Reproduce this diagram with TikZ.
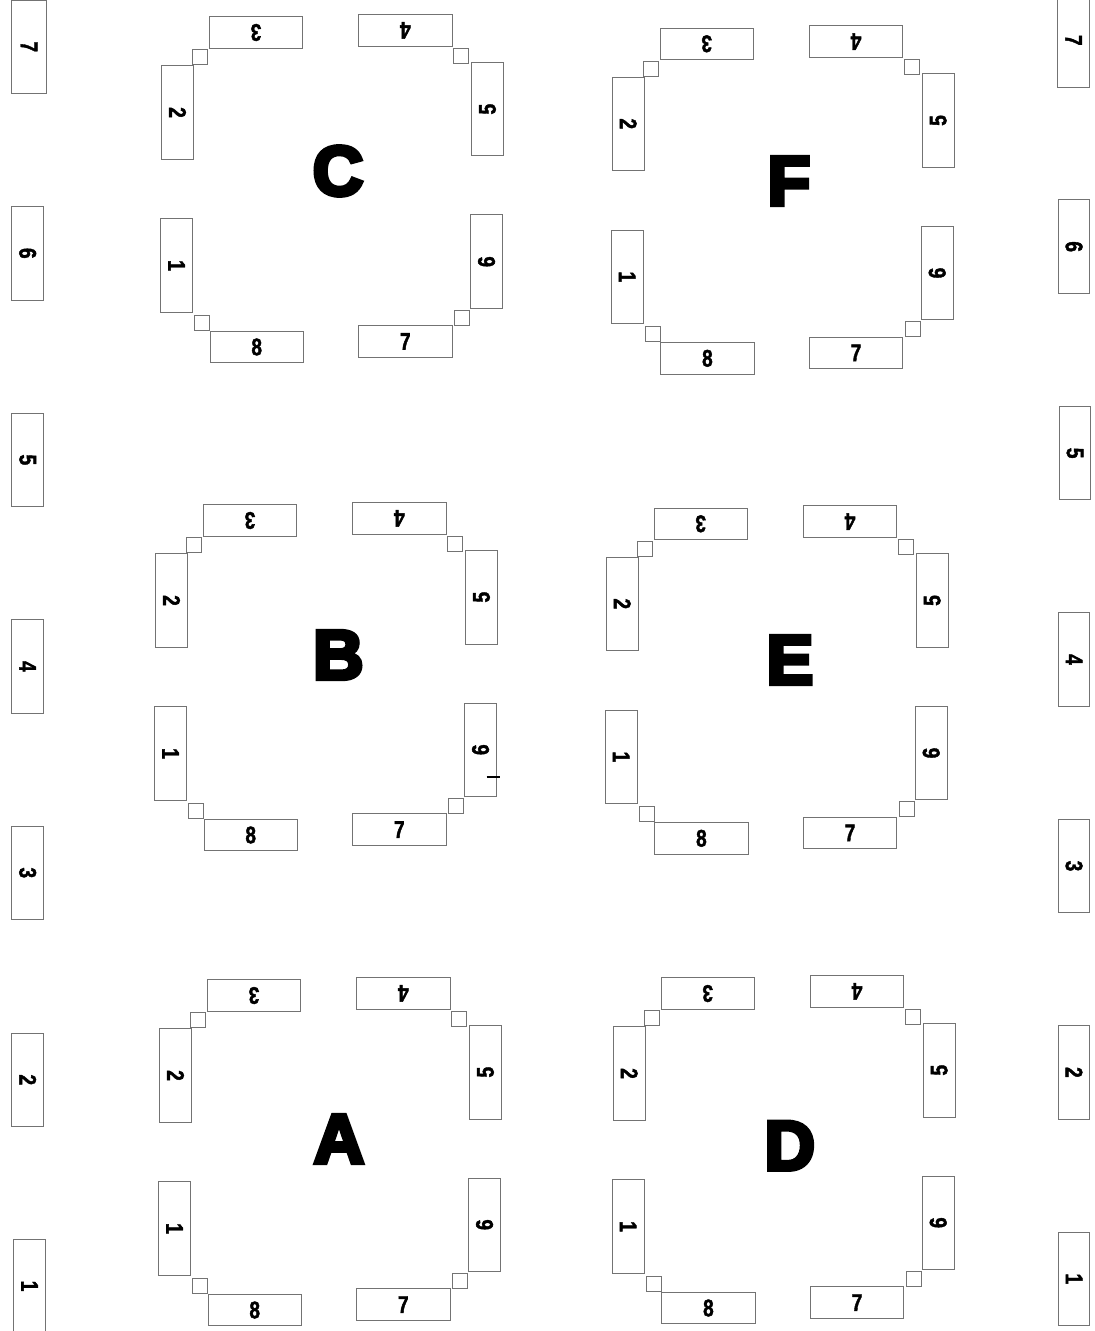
\documentclass[tikz,border=0pt]{standalone}
\usepackage{fontspec}
\setmainfont{Liberation Sans}
\newfontfamily\heavyfont[FakeBold=6]{Liberation Sans}
\newfontfamily\digitfont[FakeBold=2]{Liberation Sans}
\usepackage{graphicx}
\tikzset{
  lab/.style={draw=black!55, line width=0.9bp, minimum width=93.5bp, minimum height=31.6bp,
    inner sep=0pt, font=\digitfont\bfseries\fontsize{24bp}{24bp}\selectfont},
  sq/.style={draw=black!55, line width=0.9bp, minimum size=15bp, inner sep=0pt},
  bigletter/.style={inner sep=0pt, font=\heavyfont\bfseries\fontsize{70bp}{70bp}\selectfont},
  tick/.style={line width=1.6bp, black}
}
\newcommand\dg[1]{\scalebox{0.8}[1]{#1}}
\newcommand\drawpanel[3]{%
  \begin{scope}[shift={(#2,#3)}]
    \node[lab, rotate=180] (#1-3) at (256,32.5) {\dg{3}};
    \node[lab, rotate=180] (#1-4) at (405.3,30.3) {\dg{4}};
    \node[lab, rotate=-90] (#1-2) at (177.5,112.5) {\dg{2}};
    \node[lab, rotate=90] (#1-5) at (487.5,109.2) {\dg{5}};
    \node[lab, rotate=-90] (#1-1) at (176.5,265.5) {\dg{1}};
    \node[lab, rotate=90] (#1-6) at (486.5,261.7) {\dg{6}};
    \node[lab] (#1-8) at (256.7,347) {\dg{8}};
    \node[lab] (#1-7) at (405.3,341.5) {\dg{7}};
    \node[sq] (#1-sqa) at (200,57.2) {};
    \node[sq] (#1-sqb) at (460.8,55.5) {};
    \node[sq] (#1-sqc) at (201.8,322.8) {};
    \node[sq] (#1-sqd) at (461.8,317.5) {};
  \end{scope}}
\begin{document}
\begin{tikzpicture}[x=1bp,y=-1bp]
  \useasboundingbox (0,0) rectangle (1094,1331);
  \clip (0,0) rectangle (1094,1331);
  \fill[white] (0,0) rectangle (1094,1331);
  % panels
  \drawpanel{C}{0}{0}
  \drawpanel{B}{-6}{488}
  \drawpanel{A}{-2}{963}
  \drawpanel{F}{450.7}{11.3}
  \drawpanel{E}{444.7}{491.3}
  \drawpanel{D}{451.7}{961}
  % big letters
  \node[bigletter] (LC) at (338,171) {C};
  \node[bigletter] (LB) at (338.3,655) {B};
  \node[bigletter] (LA) at (339,1139) {A};
  \node[bigletter] (LF) at (789,181) {F};
  \node[bigletter] (LE) at (790,660) {E};
  \node[bigletter] (LD) at (789.7,1145.7) {D};
  % mark on B-6
  \coordinate (tka) at (486.7,776.7);
  \coordinate (tkb) at (500,776.7);
  \draw[tick] (tka) -- (tkb);
  % far left column
  \node[lab, rotate=-90, minimum height=35bp] (L7) at (29,46.8) {\dg{7}};
  \node[lab, rotate=-90] (L6) at (27.7,253.3) {\dg{6}};
  \node[lab, rotate=-90] (L5) at (27.7,459.8) {\dg{5}};
  \node[lab, rotate=-90] (L4) at (27.7,666.3) {\dg{4}};
  \node[lab, rotate=-90] (L3) at (27.7,872.8) {\dg{3}};
  \node[lab, rotate=-90] (L2) at (27.7,1079.8) {\dg{2}};
  \node[lab, rotate=-90] (L1) at (29.5,1286) {\dg{1}};
  % far right column
  \node[lab, rotate=-90] (R7) at (1073.5,40.3) {\dg{7}};
  \node[lab, rotate=-90] (R6) at (1074,246.7) {\dg{6}};
  \node[lab, rotate=-90] (R5) at (1075,453.1) {\dg{5}};
  \node[lab, rotate=-90] (R4) at (1074,659.5) {\dg{4}};
  \node[lab, rotate=-90] (R3) at (1074,866) {\dg{3}};
  \node[lab, rotate=-90] (R2) at (1074,1072.4) {\dg{2}};
  \node[lab, rotate=-90] (R1) at (1074,1278.8) {\dg{1}};
\end{tikzpicture}
\end{document}
